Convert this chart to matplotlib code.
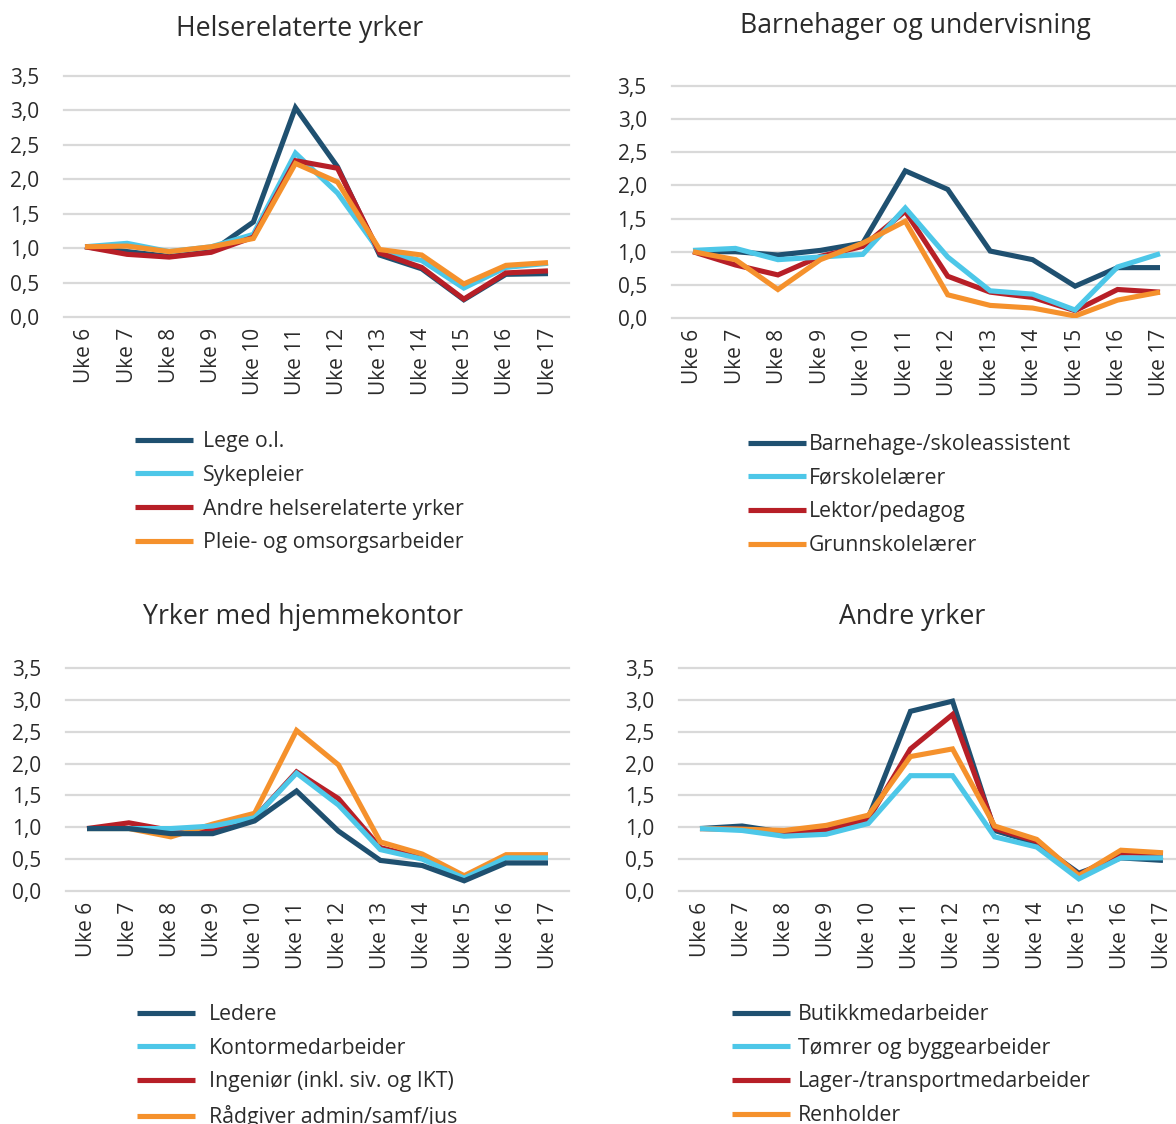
import matplotlib
matplotlib.use("Agg")
import matplotlib.pyplot as plt

plt.rcParams['font.family'] = ['Open Sans', 'DejaVu Sans']

# data
weeks = ['Uke 6', 'Uke 7', 'Uke 8', 'Uke 9', 'Uke 10', 'Uke 11',
         'Uke 12', 'Uke 13', 'Uke 14', 'Uke 15', 'Uke 16', 'Uke 17']
y_ticks = [0.0, 0.5, 1.0, 1.5, 2.0, 2.5, 3.0, 3.5]
y_tick_labels = ['0,0', '0,5', '1,0', '1,5', '2,0', '2,5', '3,0', '3,5']

# Helserelaterte yrker
helse_names = ['Lege o.l.', 'Sykepleier', 'Andre helserelaterte yrker', 'Pleie- og omsorgsarbeider']
lege = [1.02, 0.95, 0.88, 0.95, 1.38, 3.04, 2.18, 0.90, 0.70, 0.25, 0.62, 0.63]
sykepleier = [1.02, 1.07, 0.95, 1.02, 1.20, 2.38, 1.80, 0.95, 0.82, 0.42, 0.72, 0.78]
andre_helse = [1.02, 0.91, 0.87, 0.94, 1.16, 2.27, 2.16, 0.93, 0.72, 0.26, 0.64, 0.67]
pleie = [1.02, 1.03, 0.95, 1.02, 1.14, 2.23, 1.96, 0.98, 0.90, 0.48, 0.75, 0.79]

# Barnehager og undervisning
skole_names = ['Barnehage-/skoleassistent', 'Førskolelærer', 'Lektor/pedagog', 'Grunnskolelærer']
assistent = [1.00, 1.00, 0.95, 1.02, 1.13, 2.22, 1.94, 1.01, 0.88, 0.48, 0.76, 0.76]
forskole = [1.02, 1.05, 0.88, 0.92, 0.96, 1.66, 0.92, 0.41, 0.36, 0.12, 0.77, 0.97]
lektor = [1.00, 0.80, 0.65, 0.93, 1.08, 1.61, 0.63, 0.39, 0.31, 0.11, 0.43, 0.39]
grunnskole = [1.00, 0.88, 0.43, 0.88, 1.13, 1.46, 0.35, 0.19, 0.15, 0.03, 0.27, 0.39]

# Yrker med hjemmekontor
kontor_names = ['Ledere', 'Kontormedarbeider', 'Ingeniør (inkl. siv. og IKT)', 'Rådgiver admin/samf/jus']
ledere = [0.98, 0.98, 0.90, 0.90, 1.10, 1.57, 0.94, 0.48, 0.40, 0.16, 0.44, 0.44]
kontormedarb = [0.98, 0.98, 0.98, 1.02, 1.15, 1.85, 1.35, 0.65, 0.50, 0.20, 0.52, 0.52]
ingenior = [0.98, 1.07, 0.95, 0.95, 1.15, 1.87, 1.45, 0.68, 0.52, 0.20, 0.53, 0.53]
radgiver = [0.98, 0.98, 0.85, 1.05, 1.22, 2.52, 1.98, 0.77, 0.58, 0.24, 0.57, 0.57]

# Andre yrker
andre_names = ['Butikkmedarbeider', 'Tømrer og byggearbeider', 'Lager-/transportmedarbeider', 'Renholder']
butikk = [0.98, 1.02, 0.92, 0.95, 1.15, 2.82, 2.98, 0.95, 0.75, 0.28, 0.52, 0.48]
tomrer = [0.98, 0.95, 0.86, 0.89, 1.06, 1.81, 1.81, 0.85, 0.69, 0.19, 0.52, 0.52]
lager = [0.98, 0.97, 0.92, 0.95, 1.13, 2.23, 2.77, 0.98, 0.78, 0.25, 0.60, 0.58]
renholder = [0.98, 0.97, 0.95, 1.03, 1.19, 2.11, 2.23, 1.02, 0.81, 0.24, 0.64, 0.60]

colors = ['#1f5070', '#4dc7e8', '#b71f27', '#f5912c']
text_col = '#2b2b2b'

W, H = 1176, 1124
fig = plt.figure(figsize=(W / 100, H / 100), dpi=100)


def px_axes(x0, x1, ytop, ybot):
    # x0/x1: pixel x of Uke 6 / Uke 17, ytop/ybot: pixel y of 3.5 / 0.0
    step = (x1 - x0) / 11
    left = x0 - step / 2
    right = x1 + step / 2
    return fig.add_axes([left / W, 1 - ybot / H, (right - left) / W, (ybot - ytop) / H])


panels = [
    dict(title='Helserelaterte yrker', names=helse_names,
         series=[lege, sykepleier, andre_helse, pleie], zorder=[1, 2, 3, 4],
         box=(85, 548, 76, 317), title_xy=(300, 29), leg=(135, 431), pad=0.45),
    dict(title='Barnehager og undervisning', names=skole_names,
         series=[assistent, forskole, lektor, grunnskole], zorder=[1, 3, 2, 4],
         box=(693, 1160, 86, 318), title_xy=(915, 26), leg=(748, 434), pad=0.12),
    dict(title='Yrker med hjemmekontor', names=kontor_names,
         series=[ledere, kontormedarb, ingenior, radgiver], zorder=[4, 3, 1, 2],
         box=(87, 548, 668, 891), title_xy=(303, 617), leg=(137, 1004), pad=0.62),
    dict(title='Andre yrker', names=andre_names,
         series=[butikk, tomrer, lager, renholder], zorder=[1, 4, 2, 3],
         box=(700, 1163, 668, 891), title_xy=(912, 617), leg=(732, 1004), pad=0.35),
]

for p in panels:
    ax = px_axes(*p['box'])
    x = range(len(weeks))
    handles = []
    for vals, name, col, z in zip(p['series'], p['names'], colors, p['zorder']):
        ln, = ax.plot(x, vals, color=col, lw=3.7, label=name, zorder=3 + z,
                      solid_joinstyle='miter', solid_capstyle='butt')
        handles.append(ln)
    ax.set_xlim(-0.5, len(weeks) - 0.5)
    ax.set_ylim(0, 3.5)
    ax.set_yticks(y_ticks)
    ax.set_yticklabels(y_tick_labels)
    ax.set_xticks(list(x))
    ax.set_xticklabels(weeks, rotation=90)
    ax.tick_params(length=0, labelsize=15, labelcolor=text_col)
    ax.tick_params(axis='y', pad=18)
    ax.tick_params(axis='x', pad=8)
    for s in ax.spines.values():
        s.set_visible(False)
    ax.grid(axis='y', color='#d9d9d9', lw=1.6)
    for gl in ax.get_ygridlines():
        gl.set_clip_on(False)
    ax.set_axisbelow(True)

    tx, ty = p['title_xy']
    fig.text(tx / W, 1 - ty / H, p['title'], ha='center', va='center',
             fontsize=19.2, color=text_col)

    lx, ly = p['leg']
    fig.legend(handles=handles, loc='upper left', bbox_to_anchor=(lx / W, 1 - ly / H),
               frameon=False, fontsize=15.3, handlelength=2.75, handletextpad=p['pad'],
               labelspacing=0.6, borderpad=0, borderaxespad=0, labelcolor=text_col)

fig.savefig('out.png', dpi=100)
